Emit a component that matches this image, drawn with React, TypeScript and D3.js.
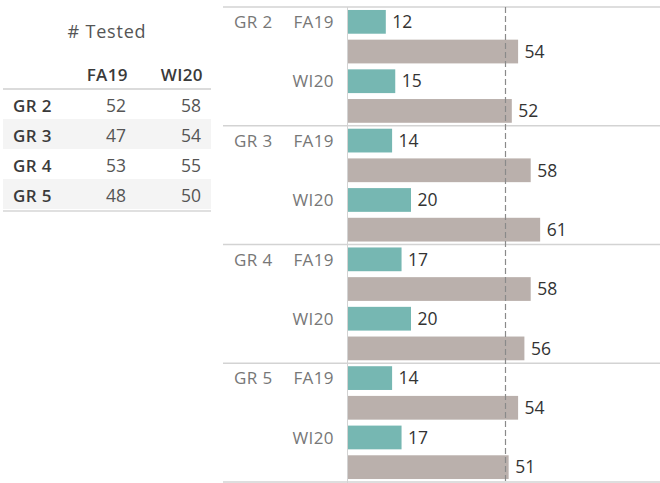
import React from "react";
import * as d3 from "d3";

const grades = ["GR 2", "GR 3", "GR 4", "GR 5"];
const periods = ["FA19", "WI20"];
// teal bars (proficient) per grade per period
const proficient = [
  [12, 15],
  [14, 20],
  [17, 20],
  [14, 17],
];
// grey-brown bars per grade per period
const tested = [
  [54, 52],
  [58, 61],
  [58, 56],
  [54, 51],
];
// table values "# Tested"
const tableTested = [
  [52, 58],
  [47, 54],
  [53, 55],
  [48, 50],
];
const referenceValue = 50;

const FONT = "'Open Sans', 'Noto Sans', sans-serif";
const TEAL = "#76b7b2";
const BROWN = "#bab0ac";

export default function App() {
  const W = 660;
  const H = 483;

  const rows: { g: number; p: number; m: number; key: string; v: number }[] = [];
  grades.forEach((_, gi) =>
    periods.forEach((_, pi) => {
      rows.push({ g: gi, p: pi, m: 0, key: `${gi}-${pi}-0`, v: proficient[gi][pi] });
      rows.push({ g: gi, p: pi, m: 1, key: `${gi}-${pi}-1`, v: tested[gi][pi] });
    })
  );

  const y = d3
    .scaleBand<string>()
    .domain(rows.map((r) => r.key))
    .range([7, 482])
    .paddingInner(0.2)
    .paddingOuter(0.1);
  const groupY = d3.scaleBand<string>().domain(grades).range([7, 482]);
  const x = d3.scaleLinear().domain([0, 100]).range([348, 663]);

  const fs = 17.5;
  const capHalf = fs * 0.357;
  const ls = 0.4;

  const tableCols = [128, 203];
  const rowTop = d3.scaleBand<string>().domain(grades).range([89, 209]);

  return (
    <svg width={W} height={H} style={{ position: "absolute", left: 0, top: 0 }} fontFamily={FONT}>
      <rect width={W} height={H} fill="#fff" />
      {/* Table */}
      <text x={107} y={37.5} textAnchor="middle" fontSize={18} letterSpacing={0.8} fill="#555">
        # Tested
      </text>
      {periods.map((p, i) => (
        <text key={p} x={tableCols[i]} y={80.5} textAnchor="end" fontSize={17} fontWeight={600} letterSpacing={ls} fill="#3a3a3a">
          {p}
        </text>
      ))}
      {grades.map((g, gi) => (
        <g key={g}>
          {gi % 2 === 1 && (
            <rect x={3} y={rowTop(g)!} width={208} height={rowTop.bandwidth()} fill="#f4f4f4" />
          )}
          <text x={13} y={rowTop(g)! + 22.7} fontSize={17} fontWeight={600} letterSpacing={ls} fill="#3a3a3a">
            {g}
          </text>
          {periods.map((p, pi) => (
            <text key={p} x={tableCols[pi] - 2} y={rowTop(g)! + 22.7} textAnchor="end" fontSize={fs} fill="#555">
              {tableTested[gi][pi]}
            </text>
          ))}
        </g>
      ))}
      <line x1={3} x2={211} y1={89} y2={89} stroke="#cfcfcf" strokeWidth={1.5} />
      <line x1={3} x2={211} y1={211} y2={211} stroke="#d6d6d6" strokeWidth={1.5} />

      {/* Chart grid */}
      {grades.map((g) => (
        <line key={g} x1={223} x2={W} y1={groupY(g)!} y2={groupY(g)!} stroke="#d3d3d3" strokeWidth={1.5} />
      ))}
      <line x1={223} x2={W} y1={482} y2={482} stroke="#d3d3d3" strokeWidth={1.5} />
      <line x1={347.5} x2={347.5} y1={7} y2={H} stroke="#d3d3d3" strokeWidth={1} />

      {/* Bars */}
      {rows.map((r) => (
        <rect
          key={r.key}
          x={x(0)}
          y={y(r.key)!}
          width={x(r.v) - x(0)}
          height={y.bandwidth()}
          fill={r.m === 0 ? TEAL : BROWN}
        />
      ))}
      {/* Reference line */}
      <line
        x1={x(referenceValue)}
        x2={x(referenceValue)}
        y1={7}
        y2={H}
        stroke="#8a8a8a"
        strokeWidth={1.2}
        strokeDasharray="6,3"
      />
      {/* Value labels */}
      {rows.map((r) => (
        <text
          key={r.key}
          x={x(r.v) + 6.5}
          y={y(r.key)! + y.bandwidth() / 2 + capHalf}
          fontSize={fs}
          fill="#333"
        >
          {r.v}
        </text>
      ))}
      {/* Row headers */}
      {rows
        .filter((r) => r.m === 0)
        .map((r) => {
          const cy = y(r.key)! + y.bandwidth() / 2 + capHalf;
          return (
            <g key={r.key}>
              {r.p === 0 && (
                <text x={234} y={cy} fontSize={17} letterSpacing={ls} fill="#777">
                  {grades[r.g]}
                </text>
              )}
              <text x={334} y={cy} textAnchor="end" fontSize={17} letterSpacing={ls} fill="#777">
                {periods[r.p]}
              </text>
            </g>
          );
        })}
    </svg>
  );
}
